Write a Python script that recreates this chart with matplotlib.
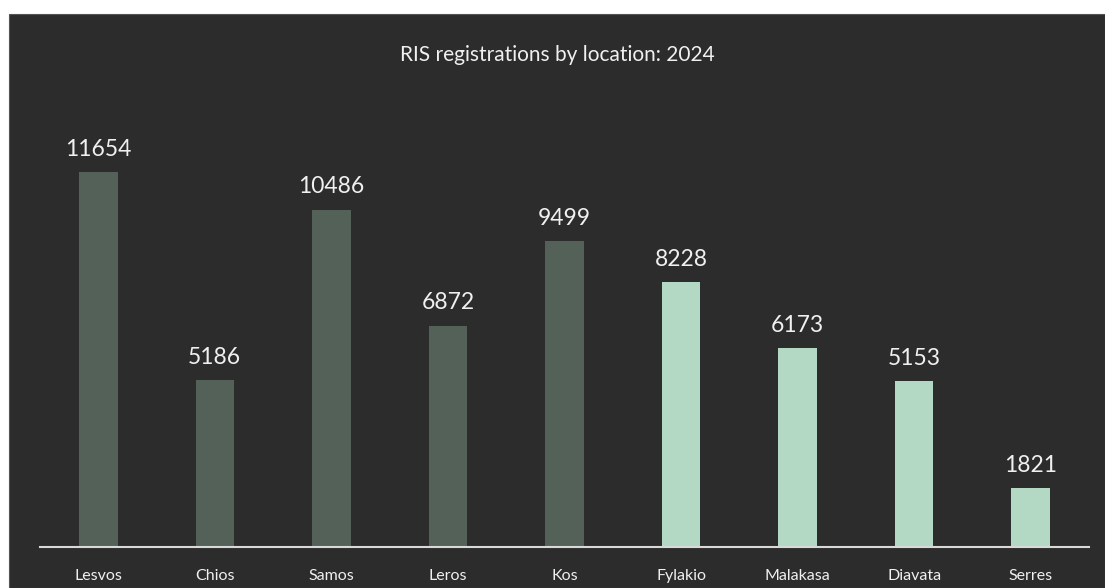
import matplotlib.pyplot as plt
from matplotlib.patches import Rectangle

locations = ["Lesvos", "Chios", "Samos", "Leros", "Kos",
             "Fylakio", "Malakasa", "Diavata", "Serres"]
registrations = [11654, 5186, 10486, 6872, 9499, 8228, 6173, 5153, 1821]
islands = ["Lesvos", "Chios", "Samos", "Leros", "Kos"]

BG = "#2c2c2c"
DARK = "#546158"
LIGHT = "#b3d9c4"
TXT = "#f0f0f0"

plt.rcParams['font.family'] = ['Lato', 'DejaVu Sans']

W, H = 1105, 588
fig = plt.figure(figsize=(W / 100, H / 100), dpi=100, facecolor="white")

# dark panel behind the chart
bg_ax = fig.add_axes([0, 0, 1, 1], zorder=0)
bg_ax.axis("off")
bg_ax.add_patch(Rectangle((9 / W, 0), 1 - 9 / W, (H - 14) / H,
                          transform=bg_ax.transAxes, facecolor=BG,
                          edgecolor="#555555", linewidth=0.8))

ax = fig.add_axes([40 / W, (H - 547) / H, 1049 / W, (547 - 100) / H], zorder=1)
ax.set_facecolor("none")

colors = [DARK if loc in islands else LIGHT for loc in locations]
x = range(len(locations))
bars = ax.bar(x, registrations, width=0.33, color=colors, zorder=2)

for b, v in zip(bars, registrations):
    ax.annotate(str(v), (b.get_x() + b.get_width() / 2, v),
                xytext=(0, 9), textcoords="offset points",
                ha="center", va="bottom", color=TXT, fontsize=16.5)

ax.set_xlim(-0.5, len(locations) - 0.5)
ax.set_ylim(0, 447 / (375 / 11654))
ax.set_xticks(list(x))
ax.set_xticklabels(locations, color=TXT, fontsize=11.5)
ax.tick_params(axis="x", length=0, pad=16)
ax.set_yticks([])
for side in ["left", "right", "top"]:
    ax.spines[side].set_visible(False)
ax.spines["bottom"].set_color("#d9d9d9")
ax.spines["bottom"].set_linewidth(1.5)

fig.text(557 / W, 1 - 55 / H, "RIS registrations by location: 2024",
         ha="center", va="center", color=TXT, fontsize=15, zorder=3)

fig.savefig("out.png", dpi=100, facecolor="white")
